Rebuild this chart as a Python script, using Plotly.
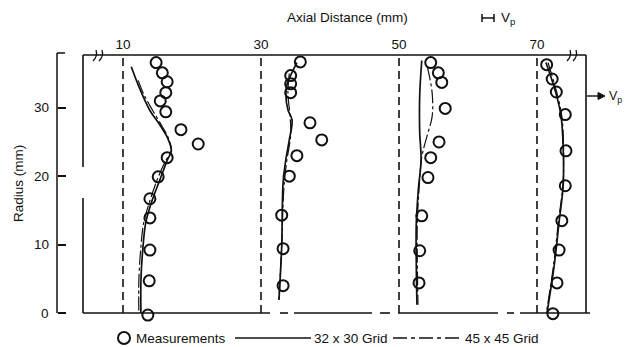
import plotly.graph_objects as go

# ---------------- data ----------------
stations = [10, 30, 50, 70]
station_labels = ["10", "30", "50", "70"]

# measurements: radius (mm) and velocity offset from station (axial-mm units, Vp scale)
meas_r_10 = [36.6, 35.1, 33.8, 32.2, 31.0, 29.4, 26.8, 24.7, 22.7, 19.9, 16.7, 13.9, 9.2, 4.7, -0.3]
meas_v_10 = [4.8, 5.7, 6.4, 6.2, 5.4, 6.2, 8.4, 10.9, 6.4, 5.1, 3.9, 3.9, 3.9, 3.8, 3.6]
meas_r_30 = [36.7, 34.7, 33.5, 32.2, 27.8, 25.3, 23.0, 20.0, 14.3, 9.4, 4.0]
meas_v_30 = [5.7, 4.3, 4.3, 4.3, 7.1, 8.8, 5.2, 4.1, 3.0, 3.2, 3.2]
meas_r_50 = [36.6, 35.1, 33.7, 29.9, 25.0, 22.7, 19.8, 14.2, 9.1, 4.4]
meas_v_50 = [4.6, 5.7, 6.2, 6.7, 5.8, 4.6, 4.2, 3.3, 3.0, 2.9]
meas_r_70 = [36.3, 34.2, 32.3, 29.0, 23.7, 18.6, 13.5, 9.2, 4.4, -0.1]
meas_v_70 = [1.4, 2.2, 2.8, 4.1, 4.2, 4.1, 3.6, 3.2, 2.9, 2.3]

# 32 x 30 grid predictions
g32_r_10 = [36.0, 32.6, 29.6, 27.4, 25.5, 23.7, 22.3, 19.6, 16.4, 13.2, 9.7, 4.8, 0.0]
g32_v_10 = [1.2, 2.5, 3.9, 5.4, 6.5, 7.0, 6.4, 5.4, 4.2, 3.3, 2.9, 2.6, 2.6]
g32_r_30 = [36.6, 33.5, 32.2, 29.7, 28.2, 25.3, 22.4, 19.0, 9.7, 1.9]
g32_v_30 = [5.2, 3.8, 3.6, 3.9, 4.5, 4.1, 3.6, 3.2, 3.0, 2.6]
g32_r_50 = [36.9, 31.8, 26.4, 22.4, 18.0, 13.0, 7.6, 1.2]
g32_v_50 = [3.3, 3.0, 3.0, 3.2, 2.8, 2.5, 2.5, 2.6]
g32_r_70 = [36.6, 32.1, 28.7, 23.9, 18.7, 13.3, 7.0, 0.0]
g32_v_70 = [1.3, 2.75, 3.5, 3.8, 3.8, 3.2, 2.5, 1.45]

# 45 x 45 grid predictions
g45_r_10 = [34.0, 32.0, 29.6, 27.4, 25.5, 23.7, 22.3, 19.6, 16.4, 13.2, 9.7, 4.8, 0.0]
g45_v_10 = [2.2, 3.0, 4.3, 5.6, 6.6, 7.0, 6.2, 5.0, 3.9, 3.0, 2.6, 2.3, 2.3]
g45_r_30 = [35.0, 32.0, 29.0, 26.0, 22.0, 18.0, 10.0, 2.0]
g45_v_30 = [4.1, 3.9, 4.2, 4.3, 3.7, 3.3, 3.0, 2.6]
g45_r_50 = [36.0, 32.2, 28.7, 26.0, 22.8, 18.0, 13.0, 7.6, 1.2]
g45_v_50 = [4.1, 4.8, 4.8, 4.1, 3.3, 2.9, 2.65, 2.65, 2.75]
g45_r_70 = [36.6, 32.1, 28.7, 23.9, 18.7, 13.3, 7.0, 0.0]
g45_v_70 = [1.6, 2.9, 3.6, 3.85, 3.75, 3.1, 2.4, 1.35]

y_ticks = [0, 10, 20, 30]
y_tick_text = ["0", "10", "20", "30"]
pipe_top = 37.7
axis_top = 38.0

meas = [(meas_r_10, meas_v_10), (meas_r_30, meas_v_30), (meas_r_50, meas_v_50), (meas_r_70, meas_v_70)]
g32 = [(g32_r_10, g32_v_10), (g32_r_30, g32_v_30), (g32_r_50, g32_v_50), (g32_r_70, g32_v_70)]
g45 = [(g45_r_10, g45_v_10), (g45_r_30, g45_v_30), (g45_r_50, g45_v_50), (g45_r_70, g45_v_70)]

# ---------------- layout geometry (pixels) ----------------
W, H = 625, 347
L, R, T, B = 57, 39, 53, 26
PW, PH = W - L - R, H - T - B
FRAME_L, FRAME_R = 83, 586
Y0_PX = 313               # pixel of radius 0
PX_PER_MM_Y = (Y0_PX - T) / axis_top
y_bottom = -(H - B - Y0_PX) / PX_PER_MM_Y

def px(x):
    return (x - L) / PW

def py(y):
    return (H - B - y) / PH

INK = "#111111"
FONT = "Liberation Sans, Arial, sans-serif"

fig = go.Figure()

# station reference (dashed) lines
for s in stations:
    fig.add_trace(go.Scatter(x=[s, s], y=[0, pipe_top], mode="lines",
                             line=dict(color=INK, width=1.6, dash="8px,5px"),
                             hoverinfo="skip", showlegend=False))

# predictions
for s, (r, v) in zip(stations, g32):
    fig.add_trace(go.Scatter(x=[s + d for d in v], y=r, mode="lines",
                             line=dict(color=INK, width=1.7, shape="spline", smoothing=1.0),
                             name="32 x 30 Grid", showlegend=False))
for s, (r, v) in zip(stations, g45):
    fig.add_trace(go.Scatter(x=[s + d for d in v], y=r, mode="lines",
                             line=dict(color=INK, width=1.2, shape="spline", smoothing=1.0,
                                       dash="14px,3px,3px,3px"),
                             name="45 x 45 Grid", showlegend=False))
# measurements
for s, (r, v) in zip(stations, meas):
    fig.add_trace(go.Scatter(x=[s + d for d in v], y=r, mode="markers",
                             marker=dict(symbol="circle-open", size=11, color=INK,
                                         line=dict(width=2, color=INK)),
                             name="Measurements", showlegend=False, cliponaxis=False))

shapes = []
def seg(x0, y0, x1, y1, w=1.6, dash=None):
    d = dict(type="line", xref="paper", yref="paper",
             x0=px(x0), y0=py(y0), x1=px(x1), y1=py(y1),
             line=dict(color=INK, width=w))
    if dash:
        d["line"]["dash"] = dash
    shapes.append(d)

# radius axis line with top end tick
seg(L, T, L, Y0_PX, w=1.5)
seg(L, T, L + 8, T, w=1.5)
# frame
seg(FRAME_L, 55, FRAME_R, 55)
seg(FRAME_L, 55, FRAME_L, 167)
seg(FRAME_L, 198, FRAME_L, 313)
seg(FRAME_R, 55, FRAME_R, 313)
# bottom centre line (long dash / short dash)
for a, b in [(FRAME_L, 270), (280, 288), (294, 372), (380, 390), (398, 498), (507, 514), (520, 590)]:
    seg(a, 313, b, 313)
# break marks on top line
for bx in [95, 101, 569, 575]:
    shapes.append(dict(type="path", xref="paper", yref="paper",
                       path=f"M {px(bx-2)},{py(61)} Q {px(bx+3)},{py(56)} {px(bx+1)},{py(50)}",
                       line=dict(color=INK, width=1.3)))
# Vp scale bar at top
seg(482, 18, 494, 18, w=1.5)
seg(482, 14, 482, 22, w=1.5)
seg(494, 14, 494, 22, w=1.5)
# Vp arrow on right
seg(587, 96, 600, 96, w=1.4)
shapes.append(dict(type="path", xref="paper", yref="paper",
                   path=f"M {px(598)},{py(92.5)} L {px(605)},{py(96)} L {px(598)},{py(99.5)} Z",
                   fillcolor=INK, line=dict(color=INK, width=1)))

# legend
shapes.append(dict(type="circle", xref="paper", yref="paper",
                   x0=px(118), y0=py(332), x1=px(130), y1=py(344),
                   line=dict(color=INK, width=2)))
seg(235, 338, 311, 338, w=1.5)
seg(393, 338, 461, 338, w=1.5, dash="14px,4px,4px,4px")

annotations = [
    dict(text="Measurements", x=px(134), y=py(338), xref="paper", yref="paper",
         xanchor="left", yanchor="middle", showarrow=False),
    dict(text="32 x 30 Grid", x=px(312), y=py(338), xref="paper", yref="paper",
         xanchor="left", yanchor="middle", showarrow=False),
    dict(text="45 x 45 Grid", x=px(463), y=py(338), xref="paper", yref="paper",
         xanchor="left", yanchor="middle", showarrow=False),
    dict(text="Axial Distance (mm)", x=px(347), y=py(18), xref="paper", yref="paper",
         xanchor="center", yanchor="middle", showarrow=False),
    dict(text="V<sub>p</sub>", x=px(499), y=py(19), xref="paper", yref="paper",
         xanchor="left", yanchor="middle", showarrow=False),
    dict(text="Radius (mm)", x=px(18), y=py(184), xref="paper", yref="paper",
         xanchor="center", yanchor="middle", textangle=-90, showarrow=False),
    dict(text="V<sub>p</sub>", x=px(607), y=py(97), xref="paper", yref="paper",
         xanchor="left", yanchor="middle", showarrow=False, font=dict(size=12.5)),
]
# radius tick labels, placed at their data values on the radius axis
for v, t in zip(y_ticks, y_tick_text):
    annotations.append(dict(text=t, x=px(51), y=v, xref="paper", yref="y",
                            xanchor="right", yanchor="middle", showarrow=False))

fig.update_layout(
    width=W, height=H,
    margin=dict(l=L, r=R, t=T, b=B),
    paper_bgcolor="white", plot_bgcolor="white",
    font=dict(family=FONT, size=13.5, color=INK),
    shapes=shapes, annotations=annotations,
    showlegend=False,
    xaxis=dict(domain=[px(FRAME_L), px(FRAME_R)],
               range=[10 - (123 - FRAME_L) / 6.9, 10 + (FRAME_R - 123) / 6.9],
               side="top", tickvals=stations, ticktext=station_labels,
               ticks="", showline=False, showgrid=False, zeroline=False,
               tickfont=dict(size=13.5)),
    yaxis=dict(range=[y_bottom, axis_top], anchor="free", position=0,
               tickvals=y_ticks, showticklabels=False,
               ticks="inside", ticklen=8, tickwidth=1.5, tickcolor=INK,
               showline=False, showgrid=False, zeroline=False),
)

fig.write_html("out.html")
